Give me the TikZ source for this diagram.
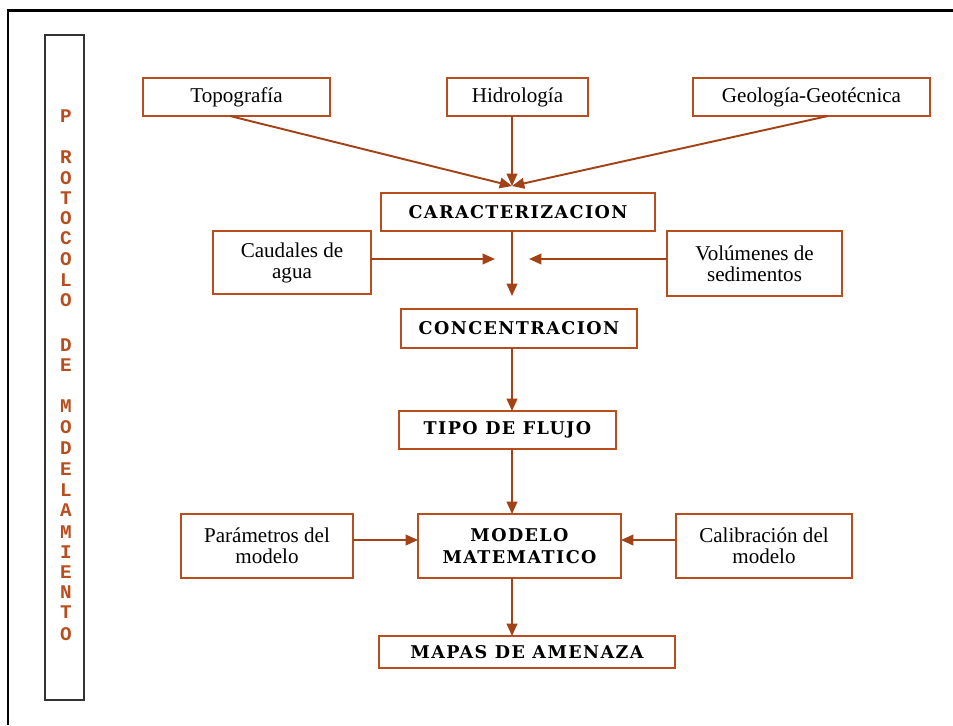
\documentclass[tikz,border=0pt]{standalone}
\usepackage{fontspec}
\setmainfont{Liberation Serif}
\newfontfamily\headfont[LetterSpace=8]{DejaVu Serif}
\newfontfamily\sidefont{Liberation Mono}
\usetikzlibrary{arrows.meta}
\definecolor{rust}{RGB}{184,78,30}
\definecolor{rustdark}{RGB}{162,66,22}

\begin{document}
\begin{tikzpicture}[x=0.02cm,y=-0.02cm,
    box/.style={draw=rust,line width=1.1pt,inner sep=0pt,outer sep=0pt,align=center,
      font=\fontsize{12}{12}\selectfont},
    headbox/.style={box,font=\headfont\bfseries\fontsize{10}{12.5}\selectfont},
    flow/.style={draw=rustdark,line width=1.1pt,-{Triangle[length=7pt,width=6pt]}},
    sideletter/.style={text=rust,inner sep=0pt,font=\sidefont\bfseries\fontsize{11}{11}\selectfont}]
  \useasboundingbox (0,0) rectangle (953,725);
  \draw[line width=1.7pt] (8,725) -- (8,10) -- (953,10);
  \draw[draw=black!80,line width=1.2pt] (45,35) rectangle (84,700);
  \foreach \ch/\y [count=\i] in {P/116,R/157,O/178,T/198,O/218,C/238,O/259,L/280,O/300,
      D/345,E/365,M/406,O/427,D/448,E/469,L/490,A/510,M/532,I/552,E/572,N/592,T/612,O/634} {
    \node[sideletter] (side\i) at (66,\y) {\ch};
  }

  \node[box,minimum width=3.74cm,minimum height=0.76cm] (topo) at (236.5,97) {Topografía};
  \node[box,minimum width=2.82cm,minimum height=0.76cm] (hidro) at (517.5,97) {Hidrología};
  \node[box,minimum width=4.74cm,minimum height=0.76cm] (geo) at (811.5,97) {Geología-Geotécnica};
  \node[headbox,minimum width=5.48cm,minimum height=0.76cm] (carac) at (518,212) {CARACTERIZACION};
  \node[box,minimum width=3.16cm,minimum height=1.26cm] (caud) at (292,262.5) {Caudales de\\agua};
  \node[box,minimum width=3.5cm,minimum height=1.3cm] (vol) at (754.5,263.5) {Volúmenes de\\sedimentos};
  \node[headbox,minimum width=4.72cm,minimum height=0.78cm] (conc) at (519,328.5) {CONCENTRACION};
  \node[headbox,minimum width=4.34cm,minimum height=0.76cm] (tipo) at (507.5,430) {TIPO DE FLUJO};
  \node[box,minimum width=3.44cm,minimum height=1.28cm] (param) at (267,546) {Parámetros del\\modelo};
  \node[headbox,minimum width=4.06cm,minimum height=1.28cm] (model) at (519.5,546) {MODELO\\MATEMATICO};
  \node[box,minimum width=3.52cm,minimum height=1.28cm] (calib) at (764,546) {Calibración del\\modelo};
  \node[headbox,minimum width=5.92cm,minimum height=0.64cm] (mapas) at (527,652) {MAPAS DE AMENAZA};

  \coordinate (axis) at (512,0);
  \coordinate (meet) at (512,186);
  \coordinate (join) at (512,296);
  \coordinate (inL) at (495,259);
  \coordinate (inR) at (529,259);
  \coordinate (midrow) at (0,540);

  \draw[flow] ([xshift=-0.13cm]topo.south) -- (meet);
  \draw[flow] (hidro.south -| axis) -- (meet);
  \draw[flow] ([xshift=0.33cm]geo.south) -- (meet);
  \draw[flow] (carac.south -| axis) -- (join);
  \draw[flow] (caud.east |- inL) -- (inL);
  \draw[flow] (vol.west |- inR) -- (inR);
  \draw[flow] (conc.south -| axis) -- (tipo.north -| axis);
  \draw[flow] (tipo.south -| axis) -- (model.north -| axis);
  \draw[flow] (param.east |- midrow) -- (model.west |- midrow);
  \draw[flow] (calib.west |- midrow) -- (model.east |- midrow);
  \draw[flow] (model.south -| axis) -- (mapas.north -| axis);
\end{tikzpicture}
\end{document}
